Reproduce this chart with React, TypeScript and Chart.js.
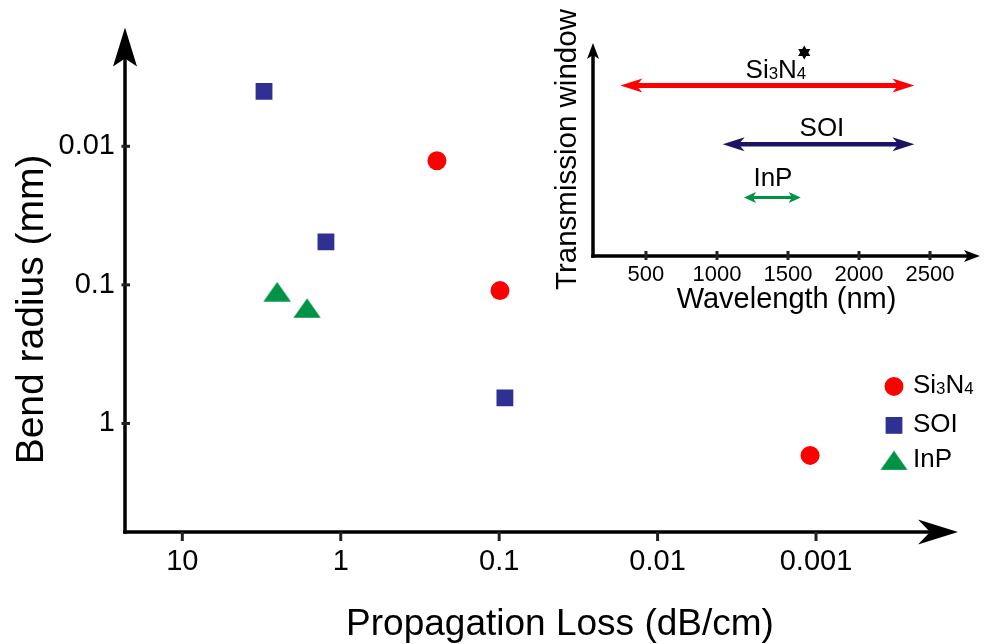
import React, { useEffect, useRef } from "react";
import { Chart, registerables } from "chart.js";

Chart.register(...registerables);

const FONT = '"Liberation Sans", Arial, Helvetica, sans-serif';

// ---------- main chart data ----------
const lossTicks = [10, 1, 0.1, 0.01, 0.001];
const lossTickLabels = ["10", "1", "0.1", "0.01", "0.001"];
const radiusTicks = [0.01, 0.1, 1];
const radiusTickLabels = ["0.01", "0.1", "1"];

const seriesNames = ["Si3N4", "SOI", "InP"];
const si3n4Loss = [0.247, 0.0988, 0.00109];
const si3n4Radius = [0.0127, 0.11, 1.7];
const soiLoss = [3.05, 1.24, 0.092];
const soiRadius = [0.00402, 0.049, 0.654];
const inpLoss = [2.52, 1.63];
const inpRadius = [0.112, 0.147];

const xTitle = "Propagation Loss (dB/cm)";
const yTitle = "Bend radius (mm)";

// ---------- inset data ----------
const windowStartNm = [320, 1040, 1190];
const windowEndNm = [2390, 2390, 1590];
const windowRow = [8.0, 5.25, 2.75];
const windowLabelNm = [1415, 1739, 1394];
const wavelengthTicks = [500, 1000, 1500, 2000, 2500];
const insetXTitle = "Wavelength (nm)";
const insetYTitle = "Transmission window";

const RED = "#FF0000";
const BLUE = "#2E3192";
const GREEN = "#009245";
const NAVY = "#1B1464";

function arrowHead(ctx: CanvasRenderingContext2D, tx: number, ty: number, dx: number, dy: number, len: number, half: number, notch: number, color: string) {
  const px = -dy, py = dx;
  const bx = tx - dx * len, by = ty - dy * len;
  const nx = tx - dx * (len - notch), ny = ty - dy * (len - notch);
  ctx.beginPath();
  ctx.moveTo(tx, ty);
  ctx.lineTo(bx + px * half, by + py * half);
  ctx.lineTo(nx, ny);
  ctx.lineTo(bx - px * half, by - py * half);
  ctx.closePath();
  ctx.fillStyle = color;
  ctx.fill();
}

function chemParts(name: string): [string, boolean][] {
  const parts: [string, boolean][] = [];
  for (const ch of name) {
    const sub = /[0-9]/.test(ch);
    const last = parts[parts.length - 1];
    if (last && last[1] === sub) last[0] += ch;
    else parts.push([ch, sub]);
  }
  return parts;
}

function chemText(ctx: CanvasRenderingContext2D, name: string, x: number, y: number, size: number, align: "left" | "center") {
  const parts = chemParts(name);
  const sub = size * 0.65;
  let w = 0;
  for (const [t, s] of parts) {
    ctx.font = `${s ? sub : size}px ${FONT}`;
    w += ctx.measureText(t).width;
  }
  let cx = align === "center" ? x - w / 2 : x;
  ctx.textAlign = "left";
  ctx.textBaseline = "alphabetic";
  ctx.fillStyle = "#000";
  for (const [t, s] of parts) {
    ctx.font = `${s ? sub : size}px ${FONT}`;
    ctx.fillText(t, cx, y + (s ? size * 0.04 : 0));
    cx += ctx.measureText(t).width;
  }
  return w;
}

function makeTriangle(color: string) {
  const c = document.createElement("canvas");
  c.width = 28;
  c.height = 20;
  const g = c.getContext("2d")!;
  g.beginPath();
  g.moveTo(14, 0.3);
  g.lineTo(0.3, 19.7);
  g.lineTo(27.7, 19.7);
  g.closePath();
  g.fillStyle = color;
  g.fill();
  return c;
}

export default function App() {
  const mainRef = useRef<HTMLCanvasElement>(null);
  const insetRef = useRef<HTMLCanvasElement>(null);

  useEffect(() => {
    document.body.style.margin = "0";
    const tri = makeTriangle(GREEN);

    const mainDecor = {
      id: "mainDecor",
      afterDraw(chart: any) {
        const { ctx, chartArea: a, scales } = chart;
        const xs = scales.x, ys = scales.y;
        ctx.save();
        ctx.strokeStyle = "#000";
        ctx.lineWidth = 3.5;
        ctx.beginPath();
        ctx.moveTo(a.left, a.bottom + 1.75);
        ctx.lineTo(a.left, a.top + 25);
        ctx.stroke();
        arrowHead(ctx, a.left, a.top, 0, -1, 39, 12, 8, "#000");
        ctx.beginPath();
        ctx.moveTo(a.left - 1.75, a.bottom);
        ctx.lineTo(a.right - 25, a.bottom);
        ctx.stroke();
        arrowHead(ctx, a.right, a.bottom, 1, 0, 40, 12.5, 12, "#000");

        ctx.strokeStyle = "#222";
        ctx.lineWidth = 3;
        for (const v of lossTicks) {
          const p = xs.getPixelForValue(v);
          ctx.beginPath();
          ctx.moveTo(p, a.bottom);
          ctx.lineTo(p, a.bottom + 9);
          ctx.stroke();
        }
        for (const v of radiusTicks) {
          const p = ys.getPixelForValue(v);
          ctx.beginPath();
          ctx.moveTo(a.left - 3.5, p);
          ctx.lineTo(a.left + 5, p);
          ctx.stroke();
        }

        // axis titles
        ctx.fillStyle = "#000";
        ctx.font = `37px ${FONT}`;
        ctx.textAlign = "center";
        ctx.textBaseline = "alphabetic";
        ctx.fillText(xTitle, a.left + 435, a.bottom + 103);
        ctx.save();
        ctx.translate(43, a.top + 282);
        ctx.rotate(-Math.PI / 2);
        ctx.font = `39px ${FONT}`;
        ctx.fillText(yTitle, 0, 0);
        ctx.restore();

        // legend
        const lx = a.right - 64;
        const lys = [a.top + 359, a.top + 398, a.top + 433];
        chart.data.datasets.forEach((ds: any, i: number) => {
          const y = lys[i];
          ctx.fillStyle = ds.pointBackgroundColor;
          if (i === 0) {
            ctx.beginPath();
            ctx.arc(lx, y, 9.5, 0, Math.PI * 2);
            ctx.fill();
          } else if (i === 1) {
            ctx.fillRect(lx - 8.4, y - 8.4, 16.8, 16.8);
          } else {
            ctx.drawImage(tri, lx - 14, y - 10);
          }
          chemText(ctx, ds.label, lx + 19, y + 7, 26, "left");
        });
        ctx.restore();
      },
    };

    const main = new Chart(mainRef.current!, {
      type: "scatter",
      data: {
        datasets: [
          {
            label: seriesNames[0],
            data: si3n4Loss.map((x, i) => ({ x, y: si3n4Radius[i] })),
            pointStyle: "circle",
            pointRadius: 9.5,
            pointBorderWidth: 0,
            pointBackgroundColor: RED,
            pointBorderColor: RED,
          },
          {
            label: seriesNames[1],
            data: soiLoss.map((x, i) => ({ x, y: soiRadius[i] })),
            pointStyle: "rect",
            pointRadius: 11.9,
            pointBorderWidth: 0,
            pointBackgroundColor: BLUE,
            pointBorderColor: BLUE,
          },
          {
            label: seriesNames[2],
            data: inpLoss.map((x, i) => ({ x, y: inpRadius[i] })),
            pointStyle: tri as any,
            pointRadius: 10,
            pointBorderWidth: 0,
            pointBackgroundColor: GREEN,
            pointBorderColor: GREEN,
          },
        ],
      },
      options: {
        responsive: false,
        animation: false,
        devicePixelRatio: 1,
        events: [],
        layout: { padding: { left: 0, right: 26, top: 24, bottom: 0 } },
        plugins: { legend: { display: false }, tooltip: { enabled: false } },
        scales: {
          x: {
            type: "logarithmic",
            reverse: true,
            min: 1.27e-4,
            max: 23.0,
            afterBuildTicks: (s: any) => {
              s.ticks = lossTicks.map((v) => ({ value: v }));
            },
            afterFit: (s: any) => {
              s.height = 112;
            },
            border: { display: false },
            grid: { display: false, drawTicks: false },
            ticks: {
              autoSkip: false,
              maxRotation: 0,
              minRotation: 0,
              padding: 13,
              color: "#000",
              font: { family: FONT, size: 29 },
              callback: (v: any) => lossTickLabels[lossTicks.indexOf(Number(v))] ?? "",
            },
          },
          y: {
            type: "logarithmic",
            reverse: true,
            min: 0.001387,
            max: 6.07,
            afterBuildTicks: (s: any) => {
              s.ticks = radiusTicks.map((v) => ({ value: v }));
            },
            afterFit: (s: any) => {
              s.width = 125;
            },
            border: { display: false },
            grid: { display: false, drawTicks: false },
            ticks: {
              autoSkip: false,
              padding: 10,
              color: "#000",
              font: { family: FONT, size: 29 },
              callback: (v: any) => radiusTickLabels[radiusTicks.indexOf(Number(v))] ?? "",
            },
          },
        },
      },
      plugins: [mainDecor],
    } as any);

    const arrowStyles = [
      { len: 22, half: 7, notch: 6, width: 5 },
      { len: 22, half: 7, notch: 6, width: 4.5 },
      { len: 12, half: 5.5, notch: 3, width: 3 },
    ];

    const insetDecor = {
      id: "insetDecor",
      afterDraw(chart: any) {
        const { ctx, chartArea: a, scales } = chart;
        const xs = scales.x;
        ctx.save();
        ctx.strokeStyle = "#000";
        ctx.lineWidth = 3.5;
        ctx.beginPath();
        ctx.moveTo(a.left, a.bottom + 1.75);
        ctx.lineTo(a.left, a.top + 10);
        ctx.stroke();
        arrowHead(ctx, a.left, a.top, 0, -1, 16, 6, 4, "#000");
        ctx.beginPath();
        ctx.moveTo(a.left - 1.75, a.bottom);
        ctx.lineTo(a.right - 10, a.bottom);
        ctx.stroke();
        arrowHead(ctx, a.right, a.bottom, 1, 0, 16, 6, 4, "#000");

        ctx.strokeStyle = "#222";
        ctx.lineWidth = 3;
        for (const v of wavelengthTicks) {
          const p = xs.getPixelForValue(v);
          ctx.beginPath();
          ctx.moveTo(p, a.bottom - 5);
          ctx.lineTo(p, a.bottom + 4);
          ctx.stroke();
        }

        const labelOffsets = [-8, -8, -11];
        chart.data.datasets.forEach((ds: any, i: number) => {
          const meta = chart.getDatasetMeta(i);
          const p0 = meta.data[0], p1 = meta.data[1];
          const st = arrowStyles[i];
          ctx.strokeStyle = ds.borderColor;
          ctx.lineWidth = st.width;
          ctx.beginPath();
          ctx.moveTo(p0.x + st.len - st.notch - 1, p0.y);
          ctx.lineTo(p1.x - (st.len - st.notch - 1), p1.y);
          ctx.stroke();
          arrowHead(ctx, p0.x, p0.y, -1, 0, st.len, st.half, st.notch, ds.borderColor);
          arrowHead(ctx, p1.x, p1.y, 1, 0, st.len, st.half, st.notch, ds.borderColor);
          const lx = xs.getPixelForValue(windowLabelNm[i]);
          const w = chemText(ctx, ds.label, lx, p0.y + labelOffsets[i], 26, "center");
          if (i === 0) {
            // hexagram star marker
            const sx = lx + w / 2 - 2, sy = p0.y - 33, r = 7;
            ctx.fillStyle = "#000";
            for (const rot of [0, Math.PI]) {
              ctx.beginPath();
              for (let k = 0; k < 3; k++) {
                const ang = rot - Math.PI / 2 + (k * 2 * Math.PI) / 3;
                const px = sx + r * Math.cos(ang), py = sy + r * Math.sin(ang);
                if (k === 0) ctx.moveTo(px, py);
                else ctx.lineTo(px, py);
              }
              ctx.closePath();
              ctx.fill();
            }
          }
        });
        ctx.restore();
      },
    };

    const inset = new Chart(insetRef.current!, {
      type: "line",
      data: {
        datasets: seriesNames.map((name, i) => ({
          label: name,
          data: [
            { x: windowStartNm[i], y: windowRow[i] },
            { x: windowEndNm[i], y: windowRow[i] },
          ],
          borderColor: [RED, NAVY, GREEN][i],
          backgroundColor: [RED, NAVY, GREEN][i],
          showLine: false,
          pointRadius: 0,
          borderWidth: 0,
        })),
      },
      options: {
        responsive: false,
        animation: false,
        devicePixelRatio: 1,
        events: [],
        layout: { padding: { left: 0, right: 4, top: 43, bottom: 0 } },
        plugins: { legend: { display: false }, tooltip: { enabled: false } },
        scales: {
          x: {
            type: "linear",
            min: 127,
            max: 2852,
            afterBuildTicks: (s: any) => {
              s.ticks = wavelengthTicks.map((v) => ({ value: v }));
            },
            afterFit: (s: any) => {
              s.height = 74;
            },
            border: { display: false },
            grid: { display: false, drawTicks: false },
            ticks: {
              autoSkip: false,
              maxRotation: 0,
              minRotation: 0,
              padding: 6,
              color: "#000",
              font: { family: FONT, size: 22 },
              callback: (v: any) => String(v),
            },
            title: {
              display: true,
              text: insetXTitle,
              color: "#000",
              font: { family: FONT, size: 29 },
              padding: { top: 0, bottom: 12.6 },
            },
          },
          y: {
            type: "linear",
            min: 0,
            max: 10,
            afterFit: (s: any) => {
              s.width = 53;
            },
            border: { display: false },
            grid: { display: false, drawTicks: false },
            ticks: { display: false },
            title: {
              display: true,
              text: insetYTitle,
              color: "#000",
              font: { family: FONT, size: 29.5 },
              padding: { top: 10.3, bottom: 0 },
            },
          },
        },
      },
      plugins: [insetDecor],
    } as any);

    return () => {
      main.destroy();
      inset.destroy();
    };
  }, []);

  return (
    <div style={{ position: "absolute", left: 0, top: 0, width: 984, height: 644, background: "#fff" }}>
      <canvas ref={mainRef} width={984} height={644} style={{ position: "absolute", left: 0, top: 0, width: 984, height: 644 }} />
      <canvas ref={insetRef} width={444} height={330} style={{ position: "absolute", left: 540, top: 0, width: 444, height: 330 }} />
    </div>
  );
}
